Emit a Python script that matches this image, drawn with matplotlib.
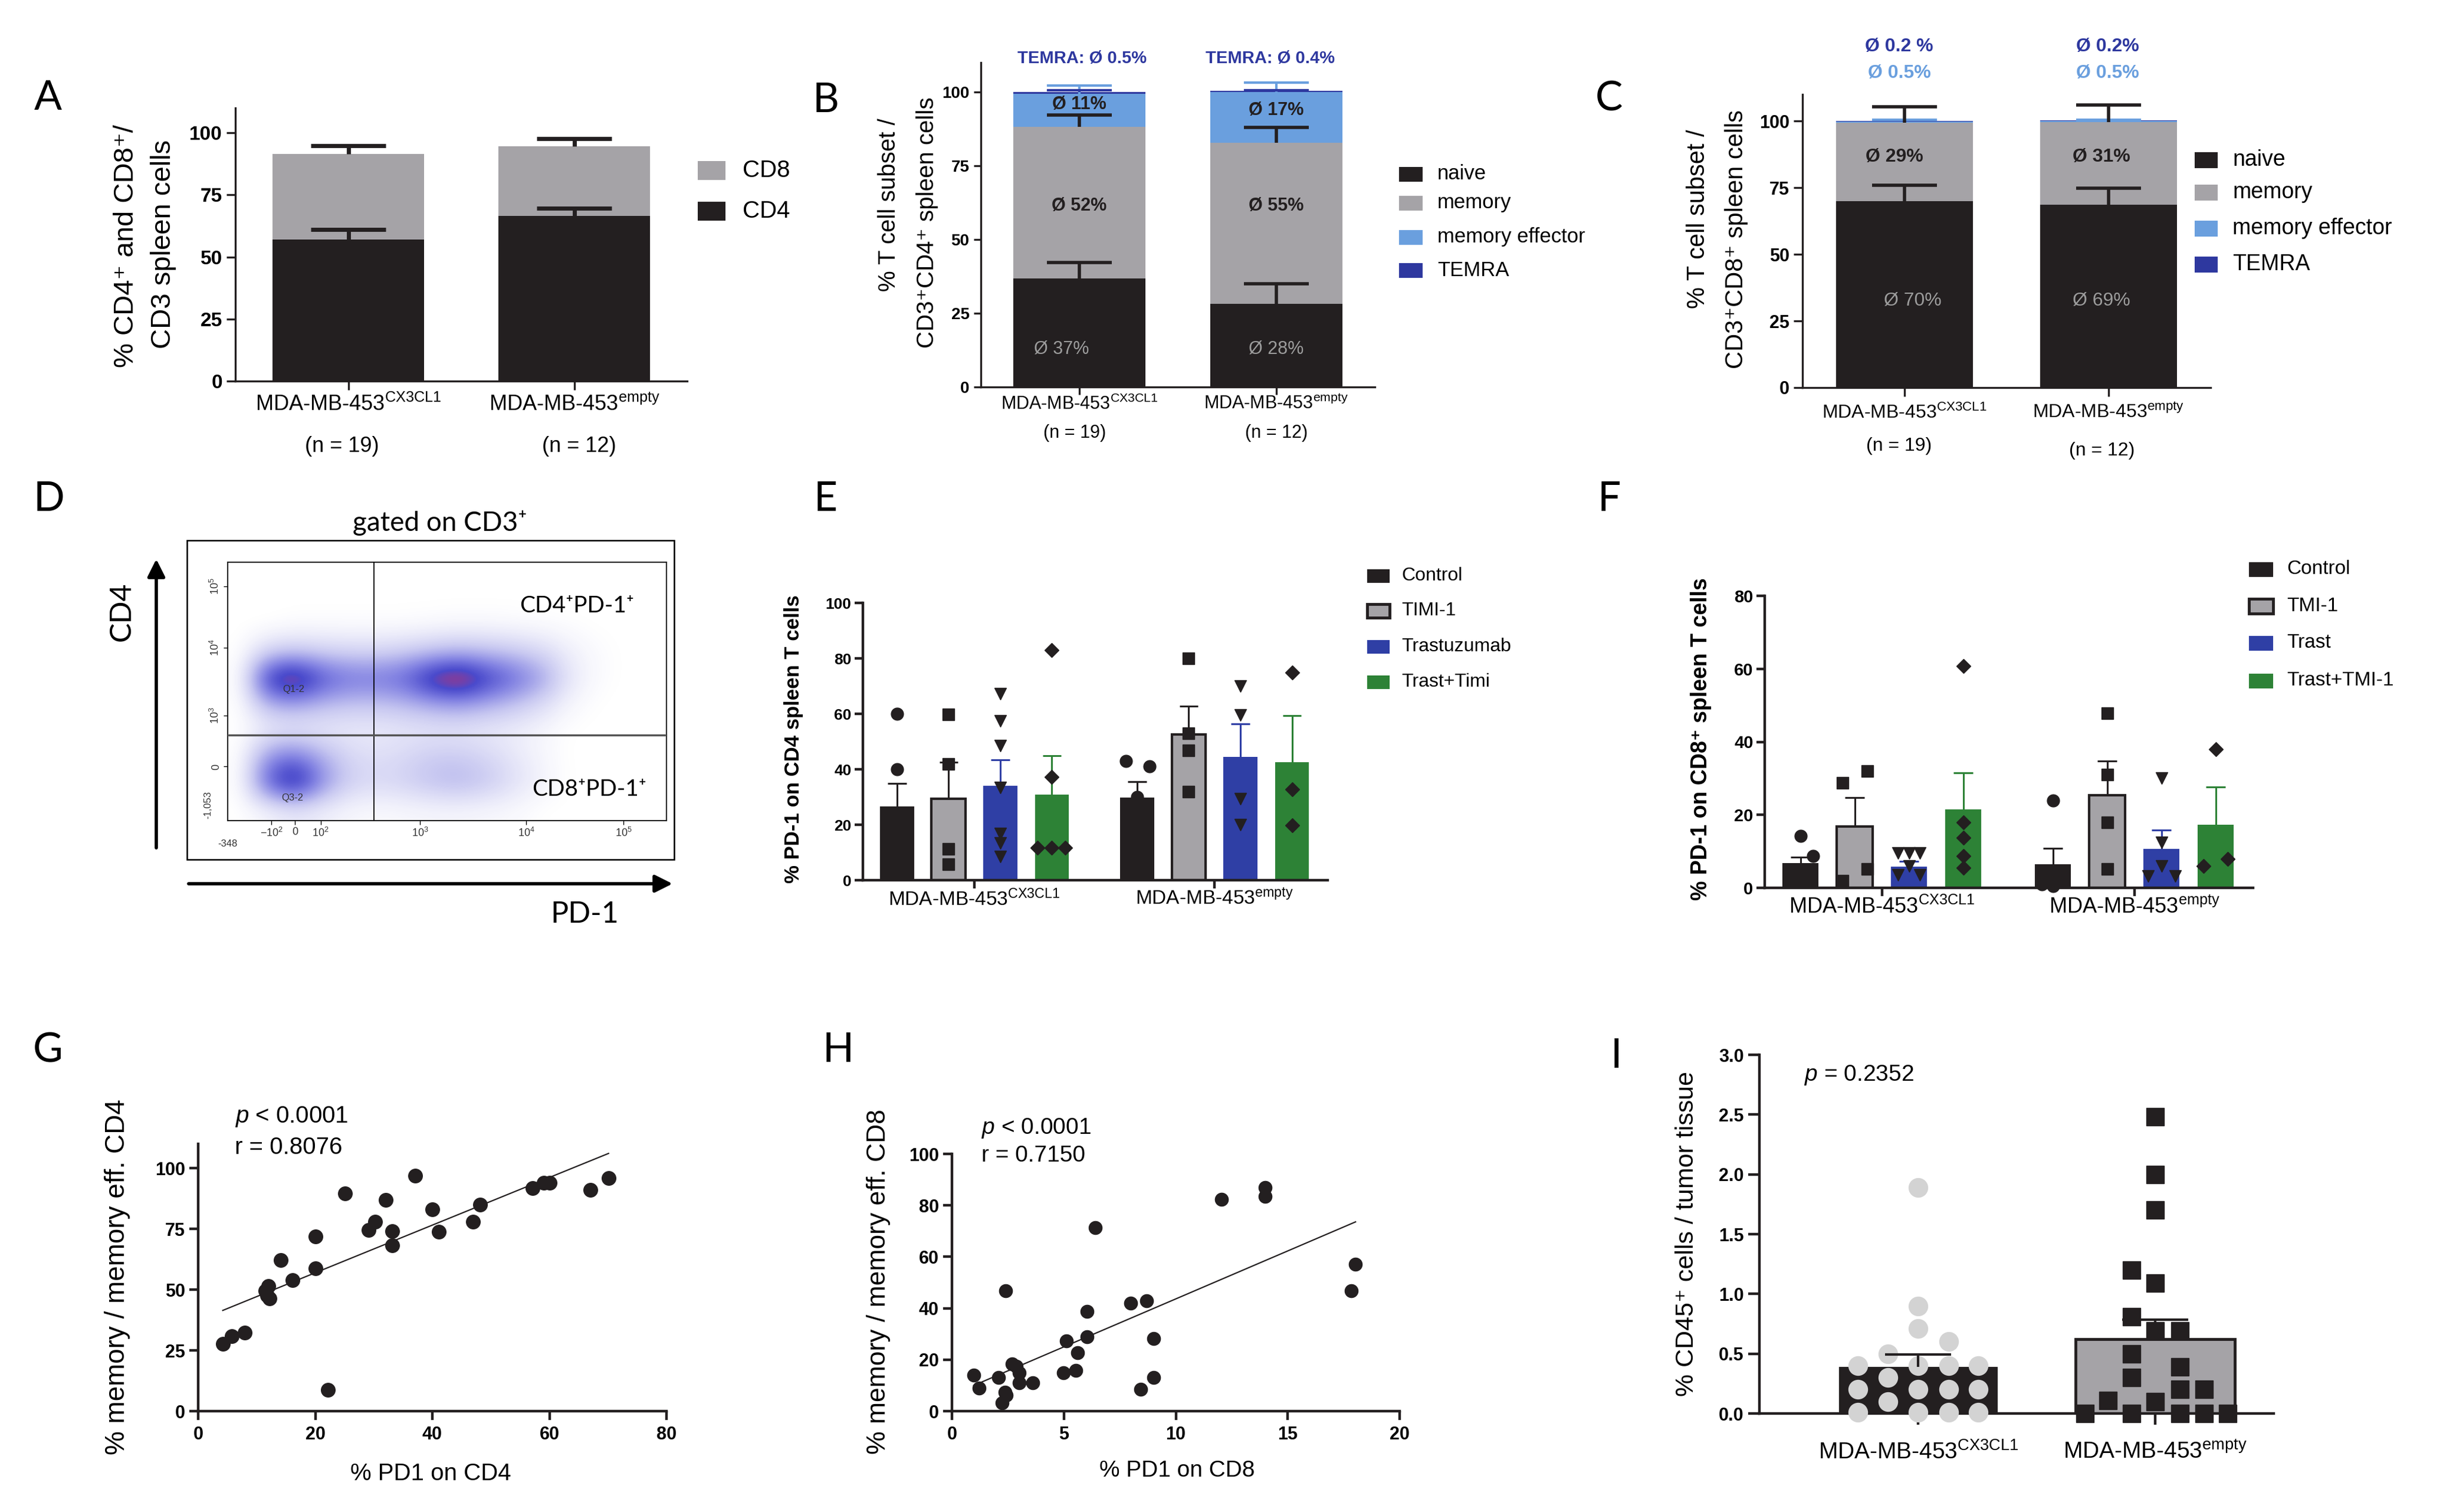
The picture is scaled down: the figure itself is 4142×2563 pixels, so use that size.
import numpy as np
import matplotlib
matplotlib.use("Agg")
import matplotlib.pyplot as plt
from matplotlib.patches import Rectangle, FancyArrowPatch
from matplotlib.colors import LinearSegmentedColormap

# ---------------- data ----------------
cell_lines = ["MDA-MB-453$^{CX3CL1}$", "MDA-MB-453$^{empty}$"]
n_labels = ["(n = 19)", "(n = 12)"]

# A: CD4 / CD8 share of CD3 spleen cells
a_cd4 = [57.0, 66.5]
a_cd4_sem = [4.0, 3.2]
a_cd8 = [34.5, 28.0]
a_cd8_sem = [3.3, 3.2]

# B: CD4 subsets
subset_names = ["naive", "memory", "memory effector", "TEMRA"]
b_naive = [36.8, 28.3]
b_naive_sem = [5.4, 6.7]
b_memory = [51.5, 54.5]
b_memory_sem = [4.0, 5.2]
b_meff = [11.2, 17.2]
b_meff_sem = [2.7, 3.3]
b_temra = [0.5, 0.4]
b_temra_sem = [0.6, 0.3]
b_naive_lbl = ["Ø 37%", "Ø 28%"]
b_memory_lbl = ["Ø 52%", "Ø 55%"]
b_meff_lbl = ["Ø 11%", "Ø 17%"]
b_temra_lbl = ["TEMRA: Ø 0.5%", "TEMRA: Ø 0.4%"]

# C: CD8 subsets
c_naive = [70.0, 68.6]
c_naive_sem = [6.0, 6.2]
c_memory = [29.3, 30.9]
c_memory_sem = [6.1, 6.5]
c_meff = [0.5, 0.5]
c_meff_sem = [0.7, 0.5]
c_temra = [0.2, 0.2]
c_temra_sem = [0.2, 0.2]
c_naive_lbl = ["Ø 70%", "Ø 69%"]
c_memory_lbl = ["Ø 29%", "Ø 31%"]
c_meff_lbl = ["Ø 0.5%", "Ø 0.5%"]
c_temra_lbl = ["Ø 0.2 %", "Ø 0.2%"]

# D: flow plot, event density (rows bottom -> top)
flow_density = np.array([
    [0, .3, .6, .4, .2, .15, .2, .25, .25, .2, .15, 0, 0, 0, 0, 0],
    [0, 3.8, 5.4, 2.5, 1.2, 1.0, 1.2, 1.6, 1.8, 1.4, .8, .3, 0, 0, 0, 0],
    [0, 2.5, 3.0, 1.8, 1.0, .8, 1.0, 1.3, 1.3, 1.0, .6, .2, 0, 0, 0, 0],
    [0, .4, .5, .5, .5, .5, .6, .6, .6, .5, .4, .2, 0, 0, 0, 0],
    [0, 1.8, 2.0, 1.6, 1.4, 1.4, 1.6, 2.0, 2.2, 1.8, 1.4, .8, .2, 0, 0, 0],
    [0, 4.8, 5.7, 3.8, 3.2, 3.2, 3.6, 5.2, 5.8, 4.4, 3.4, 2.2, .6, .1, 0, 0],
    [0, 1.2, 1.4, 1.2, 1.1, 1.1, 1.3, 1.6, 1.8, 1.6, 1.4, 1.0, .4, .1, 0, 0],
    [0, 0, .1, .1, .1, .1, .1, .15, .2, .2, .15, .1, .05, 0, 0, 0],
    [0] * 16,
    [0] * 16,
])
flow_xtick_labels = ["$-10^2$", "0", "$10^2$", "$10^3$", "$10^4$", "$10^5$"]
flow_ytick_labels = ["-1,053", "0", "$10^3$", "$10^4$", "$10^5$"]

# E: PD-1 on CD4 spleen T cells
e_treatments = ["Control", "TIMI-1", "Trastuzumab", "Trast+Timi"]
e_mean = [[26.5, 29.3, 34.1, 30.9], [29.8, 52.5, 44.4, 42.6]]
e_sem = [[8.3, 13.3, 9.2, 14.1], [5.7, 10.3, 12.0, 16.8]]
e_points = [
    [[60.0, 40.0], [59.7, 42.0, 11.2, 5.7], [67.3, 57.4, 48.5, 33.4, 16.9, 13.3, 8.5], [82.9, 37.2, 11.7, 11.7, 11.7]],
    [[42.9, 41.0, 30.1], [80.0, 52.9, 46.9, 32.0], [70.0, 59.6, 29.3, 20.0], [74.9, 32.8, 19.8]],
]
e_points_dx = [
    [[0, 0], [0, 0, 0, 0], [0, 0, 0, 0, 0, 0, 0], [0, 0, -0.28, 0, 0.26]],
    [[-0.22, 0.24, 0], [0, 0, 0, 0], [0, 0, 0, 0], [0, 0, 0]],
]

# F: PD-1 on CD8 spleen T cells
f_treatments = ["Control", "TMI-1", "Trast", "Trast+TMI-1"]
f_mean = [[6.8, 16.8, 5.8, 21.5], [6.4, 25.4, 10.7, 17.3]]
f_sem = [[1.6, 8.0, 1.4, 10.0], [4.5, 9.3, 5.2, 10.4]]
f_points = [
    [[14.2, 8.8, 3.2, 2.5], [28.7, 32.0, 5.1, 2.0], [9.5, 9.5, 9.5, 6.0, 3.5, 3.5], [60.7, 17.9, 13.8, 8.8, 5.5]],
    [[23.9, 3.0, 1.0, 0.5], [47.8, 31.0, 17.9, 5.1], [30.1, 12.5, 5.9, 3.3, 3.3], [37.9, 8.0, 5.9]],
]
f_points_dx = [
    [[0, 0.23, -0.2, 0.2], [-0.23, 0.23, 0.23, -0.23], [-0.2, 0, 0.2, 0, -0.2, 0.2], [0, 0, 0, 0, 0]],
    [[0, 0.2, -0.2, 0], [0, 0, 0, 0], [0, 0, 0, -0.25, 0.25], [0, 0.22, -0.22]],
]

# G: memory vs PD-1 on CD4
g_pd1 = [4.2, 5.7, 8.0, 11.5, 11.8, 12.0, 12.2, 14.1, 16.1, 20.1, 20.1, 22.2, 25.1, 29.1,
         30.2, 32.0, 33.1, 33.1, 37.1, 40.0, 41.1, 47.0, 48.2, 57.1, 59.0, 60.1, 67.0, 70.1]
g_mem = [27.7, 30.9, 32.2, 49.5, 47.5, 51.5, 46.5, 62.1, 53.8, 58.8, 71.9, 8.7, 89.7, 74.6,
         78.0, 87.0, 74.0, 68.2, 96.8, 83.0, 73.8, 77.9, 85.0, 91.7, 94.0, 94.0, 91.0, 96.0]

# H: memory vs PD-1 on CD8
h_pd1 = [0.97, 1.2, 2.09, 2.24, 2.36, 2.43, 2.4, 2.7, 2.86, 3.0, 3.0, 3.6, 4.99, 5.1, 5.53,
         5.6, 6.03, 6.03, 6.4, 7.98, 8.43, 8.7, 9.0, 9.0, 12.04, 14.0, 14.0, 17.84, 18.03]
h_mem = [14.0, 9.0, 13.0, 3.2, 7.3, 6.3, 46.7, 18.3, 17.4, 14.9, 11.1, 11.1, 14.9, 27.2, 15.8,
         22.7, 29.0, 38.8, 71.4, 42.0, 8.6, 42.9, 28.1, 13.0, 82.3, 87.0, 83.4, 46.8, 57.1]

# I: CD45+ cells in tumor tissue
i_cx3cl1 = [1.89, 0.90, 0.71, 0.60, 0.50, 0.40, 0.40, 0.40, 0.40, 0.30, 0.20, 0.20, 0.20,
            0.20, 0.10, 0.01, 0.01, 0.01, 0.01]
i_cx3cl1_dx = [0, 0, 0, 0.128, -0.128, -0.254, 0, 0.128, 0.254, -0.128, -0.254, 0, 0.128,
               0.254, -0.128, -0.254, 0, 0.128, 0.254]
i_empty = [2.48, 2.0, 1.70, 1.20, 1.09, 0.81, 0.69, 0.69, 0.50, 0.39, 0.30, 0.20, 0.20,
           0.11, 0.10, 0.0, 0.0, 0.0, 0.0, 0.0]
i_empty_dx = [0, 0, 0, -0.1, 0, -0.1, 0, 0.105, -0.1, 0.105, -0.1, 0.105, 0.206, -0.2, 0,
              -0.296, -0.1, 0.105, 0.206, 0.305]

# ---------------- style ----------------
BLACK = "#231f20"
GRAY = "#a5a3a7"
LIGHTBLUE = "#6a9fde"
DARKBLUE = "#2e389f"
BLUE = "#2f3fa5"
GREEN = "#2d8236"
SEGTXT = "#9c9c9c"
IPOINT = "#d3d3d3"

plt.rcParams["font.family"] = ["Liberation Sans", "DejaVu Sans"]
plt.rcParams["mathtext.fontset"] = "custom"
plt.rcParams["mathtext.rm"] = "Liberation Sans"
plt.rcParams["mathtext.it"] = "Liberation Sans:italic"
plt.rcParams["mathtext.bf"] = "Liberation Sans:bold"
plt.rcParams["mathtext.default"] = "regular"
LABEL_FONT = ["Lato", "DejaVu Sans"]

W, H = 4142, 2563
fig = plt.figure(figsize=(W / 100, H / 100), dpi=100)


def box(x0, y0, x1, y1):
    return fig.add_axes([x0 / W, 1 - y1 / H, (x1 - x0) / W, (y1 - y0) / H])


def ftext(x, y, s, **kw):
    kw.setdefault("ha", "center")
    kw.setdefault("va", "center")
    return fig.text(x / W, 1 - y / H, s, **kw)


def prism(ax, lw, fs, tick_len=11, ypad=5, xpad=4, bold_x=False):
    for side in ("top", "right"):
        ax.spines[side].set_visible(False)
    for side in ("left", "bottom"):
        ax.spines[side].set_linewidth(lw)
        ax.spines[side].set_color(BLACK)
    ax.tick_params(direction="out", length=tick_len, width=lw, color=BLACK)
    ax.tick_params(axis="y", labelsize=fs, pad=ypad)
    ax.tick_params(axis="x", pad=xpad)
    for t in ax.get_yticklabels():
        t.set_fontweight("bold")
    if bold_x:
        ax.tick_params(axis="x", labelsize=fs)
        for t in ax.get_xticklabels():
            t.set_fontweight("bold")


def err_up(ax, x, top, sem, color, hw, lw, z=6):
    x = np.asarray(x, float)
    top = np.asarray(top, float)
    sem = np.asarray(sem, float)
    ax.vlines(x, top, top + sem, color=color, lw=lw, zorder=z)
    ax.hlines(top + sem, x - hw, x + hw, color=color, lw=lw, zorder=z)


def legend_rows(x0, x1, xt, ys, h, colors, labels, fs, edge_idx=()):
    for i, (y, c, lab) in enumerate(zip(ys, colors, labels)):
        edged = i in edge_idx
        fig.add_artist(Rectangle((x0 / W, 1 - (y + h / 2) / H), (x1 - x0) / W, h / H,
                                 transform=fig.transFigure, facecolor=c,
                                 edgecolor=BLACK if edged else c, lw=3.5 if edged else 0))
        ftext(xt, y, lab, ha="left", fontsize=fs)


def panel_letter(x, y, s):
    ftext(x, y, s, fontsize=50, family=LABEL_FONT)


# ---------------- A ----------------
pos = np.arange(2)
ax = box(399, 183, 1165, 646)
ax.bar(pos, a_cd4, width=0.67, color=BLACK, zorder=2)
ax.bar(pos, a_cd8, width=0.67, bottom=a_cd4, color=GRAY, zorder=2)
err_up(ax, pos, a_cd4, a_cd4_sem, BLACK, 0.165, 5)
err_up(ax, pos, np.add(a_cd4, a_cd8), a_cd8_sem, BLACK, 0.165, 5)
ax.set_xlim(-0.5, 1.5)
ax.set_ylim(0, 110)
ax.set_yticks([0, 25, 50, 75, 100])
ax.set_xticks(pos, cell_lines, fontsize=26)
prism(ax, 2.4, 24, xpad=5)
for x, s in zip([580, 982], n_labels):
    ftext(x, 756, s, fontsize=26)
ftext(214, 417, "% CD4⁺ and CD8⁺/", rotation=90, fontsize=34)
ftext(277, 414, "CD3 spleen cells", rotation=90, fontsize=34)
legend_rows(1183, 1230, 1259, [289, 358], 31, [GRAY, BLACK], ["CD8", "CD4"], 29)
panel_letter(81, 167, "A")

# ---------------- B ----------------
ax = box(1663, 106, 2331, 656)
bot = np.zeros(2)
for vals, col in zip([b_naive, b_memory, b_meff, b_temra], [BLACK, GRAY, LIGHTBLUE, DARKBLUE]):
    ax.bar(pos, vals, width=0.67, bottom=bot, color=col, zorder=2)
    bot = bot + np.asarray(vals)
tops = np.cumsum([b_naive, b_memory, b_meff, b_temra], axis=0)
err_up(ax, pos, tops[0], b_naive_sem, BLACK, 0.165, 4)
err_up(ax, pos, tops[1], b_memory_sem, BLACK, 0.165, 4)
err_up(ax, pos, tops[2], b_meff_sem, LIGHTBLUE, 0.165, 3)
err_up(ax, pos, tops[3], b_temra_sem, DARKBLUE, 0.165, 3)
for i in range(2):
    ax.text(pos[i] - (0.09 if i == 0 else 0), 13, b_naive_lbl[i], color=SEGTXT, fontsize=22,
            ha="center", va="center", zorder=7)
    ax.text(pos[i], 61.5, b_memory_lbl[i], color=BLACK, fontsize=22, fontweight="bold",
            ha="center", va="center", zorder=7)
    ax.text(pos[i], [95.8, 93.7][i], b_meff_lbl[i], color=BLACK, fontsize=22, fontweight="bold",
            ha="center", va="center", zorder=7)
    ax.text(pos[i] + [0.015, -0.03][i], 111.4, b_temra_lbl[i], color=DARKBLUE, fontsize=21,
            fontweight="bold", ha="center", va="center", clip_on=False)
ax.set_xlim(-0.5, 1.5)
ax.set_ylim(0, 110)
ax.set_yticks([0, 25, 50, 75, 100])
ax.set_xticks(pos, cell_lines, fontsize=22)
prism(ax, 2.4, 20, tick_len=9, xpad=1)
for x, s in zip([1822, 2164], n_labels):
    ftext(x, 734, s, fontsize=22)
ftext(1507, 347, "% T cell subset /", rotation=90, fontsize=29)
ftext(1572, 377, "CD3⁺CD4⁺ spleen cells", rotation=90, fontsize=29)
legend_rows(2372, 2412, 2437, [295, 344, 402, 458], 25, [BLACK, GRAY, LIGHTBLUE, DARKBLUE],
            subset_names, 25)
panel_letter(1400, 171, "B")

# ---------------- C ----------------
ax = box(3056, 160, 3748, 657)
bot = np.zeros(2)
for vals, col in zip([c_naive, c_memory, c_meff, c_temra], [BLACK, GRAY, LIGHTBLUE, DARKBLUE]):
    ax.bar(pos, vals, width=0.67, bottom=bot, color=col, zorder=2)
    bot = bot + np.asarray(vals)
tops = np.cumsum([c_naive, c_memory, c_meff, c_temra], axis=0)
err_up(ax, pos, tops[0], c_naive_sem, BLACK, 0.16, 4)
err_up(ax, pos, tops[2], c_meff_sem, LIGHTBLUE, 0.16, 3)
err_up(ax, pos, tops[1], c_memory_sem, BLACK, 0.16, 4)
for i in range(2):
    ax.text(pos[i] + [0.04, -0.035][i], 32.7, c_naive_lbl[i], color=SEGTXT, fontsize=23,
            ha="center", va="center", zorder=7)
    ax.text(pos[i] + [-0.05, -0.035][i], 86.6, c_memory_lbl[i], color=BLACK, fontsize=23,
            fontweight="bold", ha="center", va="center", zorder=7)
    ax.text(pos[i] + [-0.026, -0.006][i], 128.0, c_temra_lbl[i], color=DARKBLUE, fontsize=23,
            fontweight="bold", ha="center", va="center", clip_on=False)
    ax.text(pos[i] + [-0.026, -0.006][i], 118.0, c_meff_lbl[i], color=LIGHTBLUE, fontsize=23,
            fontweight="bold", ha="center", va="center", clip_on=False)
ax.set_xlim(-0.5, 1.5)
ax.set_ylim(0, 110)
ax.set_yticks([0, 25, 50, 75, 100])
ax.set_xticks(pos, cell_lines, fontsize=23)
prism(ax, 2.4, 22, tick_len=11, xpad=9)
for x, y, s in zip([3220, 3564], [756, 764], n_labels):
    ftext(x, y, s, fontsize=23)
ftext(2879, 371, "% T cell subset /", rotation=90, fontsize=30)
ftext(2944, 406, "CD3⁺CD8⁺ spleen cells", rotation=90, fontsize=30)
legend_rows(3721, 3760, 3785, [271, 326, 387, 448], 27, [BLACK, GRAY, LIGHTBLUE, DARKBLUE],
            subset_names, 27)
panel_letter(2728, 168, "C")

# ---------------- D ----------------
flow_cmap = LinearSegmentedColormap.from_list(
    "flow", [(0, "white"), (0.05, "#f4f4fc"), (0.25, "#c8c8f1"), (0.5, "#8282e2"),
             (0.7, "#4a4acc"), (0.86, "#b8306e"), (1, "#e8102c")])
ax = box(386, 953, 1130, 1391)
ax.imshow(flow_density, extent=(0, 1, 0, 1), origin="lower", aspect="auto", cmap=flow_cmap,
          vmin=0, vmax=5.6, interpolation="bicubic", zorder=1)
ax.axvline(0.334, color="black", lw=1.3, zorder=3)
ax.axhline(0.331, color="#555555", lw=2.5, zorder=3)
ax.set_xlim(0, 1)
ax.set_ylim(0, 1)
ax.set_xticks([0.100, 0.153, 0.212, 0.438, 0.680, 0.902], flow_xtick_labels, fontsize=13,
              color="#333333")
ax.set_yticks([0.209, 0.407, 0.669, 0.907], flow_ytick_labels[1:], fontsize=13, color="#333333",
              rotation=90, va="center")
ax.tick_params(length=5, width=1, pad=3)
ax.text(-0.045, 0.06, flow_ytick_labels[0], transform=ax.transAxes, rotation=90, fontsize=12,
        color="#333333", ha="center", va="center")
ax.text(0.0, -0.09, "-348", transform=ax.transAxes, fontsize=12, color="#333333",
        ha="center", va="center")
for s in ax.spines.values():
    s.set_linewidth(1.3)
ax.text(0.796, 0.831, "CD4⁺PD-1⁺", transform=ax.transAxes, fontsize=28,
        family=LABEL_FONT, ha="center", va="center")
ax.text(0.824, 0.122, "CD8⁺PD-1⁺", transform=ax.transAxes, fontsize=28,
        family=LABEL_FONT, ha="center", va="center")
ax.text(0.147, 0.087, "Q3-2", transform=ax.transAxes, fontsize=12, color="#333333",
        ha="center", va="center")
ax.text(0.15, 0.508, "Q1-2", transform=ax.transAxes, fontsize=12, color="#333333",
        ha="center", va="center")
fig.add_artist(Rectangle((317 / W, 1 - 1457 / H), (1143 - 317) / W, (1457 - 916) / H,
                         transform=fig.transFigure, fill=False, edgecolor="black", lw=1.8))
fig.add_artist(FancyArrowPatch((265 / W, 1 - 1440 / H), (265 / W, 1 - 945 / H),
                               transform=fig.transFigure, arrowstyle="-|>", mutation_scale=45,
                               lw=4, color="black"))
fig.add_artist(FancyArrowPatch((317 / W, 1 - 1498 / H), (1143 / W, 1 - 1498 / H),
                               transform=fig.transFigure, arrowstyle="-|>", mutation_scale=45,
                               lw=4, color="black"))
ftext(746, 886, "gated on CD3⁺", fontsize=33, family=LABEL_FONT)
ftext(207, 1037, "CD4", fontsize=36, rotation=90, family=LABEL_FONT)
ftext(991, 1550, "PD-1", fontsize=36, family=LABEL_FONT)
panel_letter(83, 846, "D")

# ---------------- E / F ----------------
tr_colors = [BLACK, GRAY, BLUE, GREEN]
err_colors = [BLACK, BLACK, BLUE, GREEN]
markers = ["o", "s", "v", "D"]
marker_sizes = [15, 14, 15, 12]
group_step = 4.65


def grouped_panel(ax, means, sems, points, points_dx, ymax, ystep, tick_fs, lab_fs):
    for g in range(2):
        for t in range(4):
            x = g * group_step + t
            ax.bar(x, means[g][t], width=0.66, color=tr_colors[t],
                   edgecolor=BLACK if t == 1 else tr_colors[t], lw=3 if t == 1 else 0, zorder=2)
            err_up(ax, [x], [means[g][t]], [sems[g][t]], err_colors[t], 0.18, 2.2, z=3)
            ax.plot(x + np.asarray(points_dx[g][t]), points[g][t], ls="none", marker=markers[t],
                    ms=marker_sizes[t], color=BLACK, zorder=4, clip_on=False)
    ax.set_xlim(-0.66, 8.34)
    ax.set_ylim(0, ymax)
    ax.set_yticks(np.arange(0, ymax + 1, ystep))
    ax.set_xticks([1.5, group_step + 1.5], cell_lines, fontsize=lab_fs)
    prism(ax, 3.2, tick_fs, tick_len=10, xpad=1, ypad=4)


ax = box(1463, 1022, 2251, 1492)
grouped_panel(ax, e_mean, e_sem, e_points, e_points_dx, 100, 20, 19, 24)
ftext(1345, 1253, "% PD-1 on CD4 spleen T cells", rotation=90, fontsize=25, fontweight="bold")
legend_rows(2318, 2356, 2376, [976, 1035, 1096, 1156], 23, tr_colors, e_treatments, 23,
            edge_idx=(1,))
panel_letter(1400, 846, "E")

ax = box(2992, 1010, 3820, 1505)
grouped_panel(ax, f_mean, f_sem, f_points, f_points_dx, 80, 20, 21, 26)
ftext(2884, 1253, "% PD-1 on CD8⁺ spleen T cells", rotation=90, fontsize=27, fontweight="bold")
legend_rows(3813, 3854, 3877, [965, 1027, 1090, 1154], 25, tr_colors, f_treatments, 24,
            edge_idx=(1,))
panel_letter(2728, 846, "F")

# ---------------- G ----------------
ax = box(336, 1939, 1130, 2392)
ax.plot(g_pd1, g_mem, ls="none", marker="o", ms=17, color=BLACK, zorder=3, clip_on=False)
coef = np.polyfit(g_pd1, g_mem, 1)
xs = np.array([min(g_pd1), max(g_pd1)])
ax.plot(xs, np.polyval(coef, xs), color=BLACK, lw=1.6, zorder=2, clip_on=False)
ax.set_xlim(0, 80)
ax.set_ylim(0, 110)
ax.set_xticks([0, 20, 40, 60, 80])
ax.set_yticks([0, 25, 50, 75, 100])
prism(ax, 3.2, 22, tick_len=11, xpad=7, bold_x=True)
ftext(199, 2165, "% memory / memory eff. CD4", rotation=90, fontsize=33)
ftext(730, 2498, "% PD1 on CD4", fontsize=29)
ftext(398, 1893, r"$\mathit{p}$ < 0.0001", ha="left", fontsize=29)
ftext(398, 1945, "r = 0.8076", ha="left", fontsize=29)
panel_letter(81, 1781, "G")

# ---------------- H ----------------
ax = box(1614, 1956, 2373, 2392)
ax.plot(h_pd1, h_mem, ls="none", marker="o", ms=16, color=BLACK, zorder=3, clip_on=False)
coef = np.polyfit(h_pd1, h_mem, 1)
xs = np.array([min(h_pd1), max(h_pd1)])
ax.plot(xs, np.polyval(coef, xs), color=BLACK, lw=1.6, zorder=2)
ax.set_xlim(0, 20)
ax.set_ylim(0, 100)
ax.set_xticks([0, 5, 10, 15, 20])
ax.set_yticks([0, 20, 40, 60, 80, 100])
prism(ax, 3.2, 22, tick_len=11, xpad=7, bold_x=True)
ftext(1489, 2173, "% memory / memory eff. CD8", rotation=90, fontsize=32)
ftext(1996, 2493, "% PD1 on CD8", fontsize=28)
ftext(1664, 1912, r"$\mathit{p}$ < 0.0001", ha="left", fontsize=28)
ftext(1664, 1959, "r = 0.7150", ha="left", fontsize=28)
panel_letter(1421, 1781, "H")

# ---------------- I ----------------
ax = box(2983, 1788, 3855, 2396)
i_means = [np.mean(i_cx3cl1), np.mean(i_empty)]
i_sems = [np.std(i_cx3cl1, ddof=1) / np.sqrt(len(i_cx3cl1)),
          np.std(i_empty, ddof=1) / np.sqrt(len(i_empty))]
ax.bar(0, i_means[0], width=0.67, color=BLACK, zorder=2)
ax.bar(1, i_means[1], width=0.67, color=GRAY, edgecolor=BLACK, lw=3.5, zorder=2)
ax.plot(np.asarray(i_cx3cl1_dx), i_cx3cl1, ls="none", marker="o", ms=23, color=IPOINT,
        zorder=3, clip_on=False)
ax.plot(1 + np.asarray(i_empty_dx), i_empty, ls="none", marker="s", ms=22, color=BLACK,
        zorder=3, clip_on=False)
err_up(ax, [0, 1], i_means, i_sems, BLACK, 0.14, 3, z=4)
ax.set_xlim(-0.67, 1.5)
ax.set_ylim(0, 3)
ax.set_yticks([0, 0.5, 1.0, 1.5, 2.0, 2.5, 3.0])
ax.set_yticklabels(["0.0", "0.5", "1.0", "1.5", "2.0", "2.5", "3.0"])
ax.set_xticks([0, 1], cell_lines, fontsize=28)
prism(ax, 3.2, 22, tick_len=14, xpad=20)
ftext(2860, 2091, "% CD45⁺ cells / tumor tissue", rotation=90, fontsize=31)
ftext(3059, 1822, r"$\mathit{p}$ = 0.2352", ha="left", fontsize=28)
panel_letter(2740, 1790, "I")

fig.savefig("out.png", dpi=100, facecolor="white")
